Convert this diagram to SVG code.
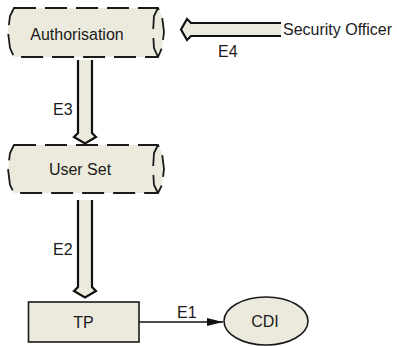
<svg xmlns="http://www.w3.org/2000/svg" width="397" height="346" viewBox="0 0 397 346">
  <style>
    text { font-family: "Liberation Sans", Arial, sans-serif; font-size: 16px; fill: #1a1a1a; }
    .store { fill: #ebeadd; stroke: #1a1a1a; stroke-width: 1.8; stroke-dasharray: 22 9; }
    .store-inner { fill: none; stroke: #1a1a1a; stroke-width: 1.8; stroke-dasharray: 22 9; }
    .proc { fill: #ebeadd; stroke: #1a1a1a; stroke-width: 1.6; }
    .flow-fill { fill: #ebeadd; stroke: none; }
    .flow-edge { fill: none; stroke: #111; stroke-width: 2.2; stroke-linejoin: miter; }
    .link { fill: none; stroke: #111; stroke-width: 1.4; }
  </style>
  <defs>
    <marker id="tri" viewBox="0 0 10 10" refX="10" refY="5" markerWidth="16" markerHeight="8" markerUnits="userSpaceOnUse" orient="auto" preserveAspectRatio="none">
      <path d="M0,0 L10,5 L0,10 Z" fill="#111"/>
    </marker>
  </defs>

  <!-- connectors -->
  <g id="connectors">
    <!-- E4: Security Officer -> Authorisation -->
    <g id="e4">
      <path class="flow-fill" d="M281,23 H191 L187,19 L181,29.5 L187,40 L191,36 H281 Z"/>
      <path class="flow-edge" d="M281,23 H191 L187,19 L181,29.5 L187,40 L191,36 H281"/>
      <text x="218" y="57">E4</text>
    </g>
    <!-- E3: Authorisation -> User Set -->
    <g id="e3">
      <path class="flow-fill" d="M78,60 V133 L74,137 L85,143.5 L96,137 L92,133 V60 Z"/>
      <path class="flow-edge" d="M78,60 V133 L74,137 L85,143.5 L96,137 L92,133 V60"/>
      <text x="53" y="115">E3</text>
    </g>
    <!-- E2: User Set -> TP -->
    <g id="e2">
      <path class="flow-fill" d="M78,200 V287 L74,291 L85,297.5 L96,291 L92,287 V200 Z"/>
      <path class="flow-edge" d="M78,200 V287 L74,291 L85,297.5 L96,291 L92,287 V200"/>
      <text x="53" y="255">E2</text>
    </g>
    <!-- E1: TP -> CDI -->
    <g id="e1">
      <line class="link" x1="139" y1="322" x2="223" y2="322" marker-end="url(#tri)"/>
      <text x="177" y="318">E1</text>
    </g>
  </g>

  <!-- nodes -->
  <g id="authorisation">
    <path class="store" d="M14,8 H158 L162,16 L164,32 L162,48 L158,57 H14 L10,48 L8,32 L10,16 Z"/>
    <path class="store-inner" d="M158,8 L154,16 L153,32 L154,48 L158,57"/>
    <text x="77" y="40" text-anchor="middle">Authorisation</text>
  </g>

  <g id="security-officer">
    <text x="283" y="35">Security Officer</text>
  </g>

  <g id="user-set">
    <path class="store" d="M14,145 H158 L162,153 L164,169 L162,185 L158,193 H14 L10,185 L8,169 L10,153 Z"/>
    <path class="store-inner" d="M158,145 L154,153 L153,169 L154,185 L158,193"/>
    <text x="80" y="175" text-anchor="middle">User Set</text>
  </g>

  <g id="tp">
    <rect class="proc" x="28.5" y="302" width="110.5" height="40"/>
    <text x="83.5" y="328" text-anchor="middle">TP</text>
  </g>

  <g id="cdi">
    <ellipse class="proc" cx="266" cy="321" rx="42" ry="24"/>
    <text x="265" y="327" text-anchor="middle">CDI</text>
  </g>
</svg>
